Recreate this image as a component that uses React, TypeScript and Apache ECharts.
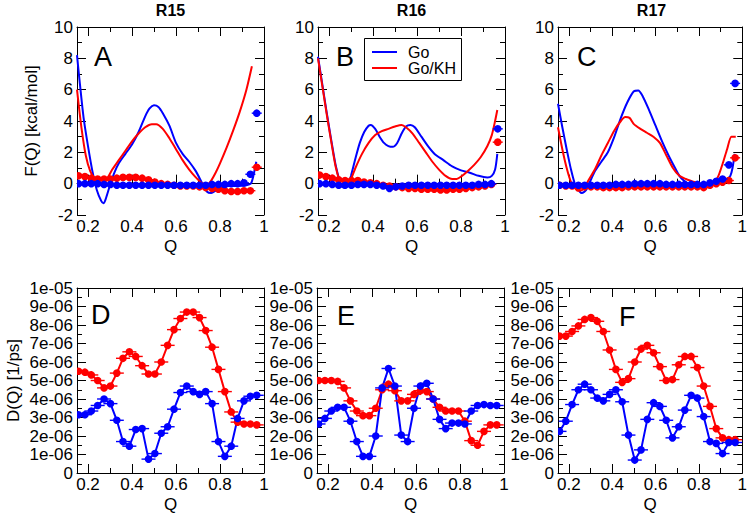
import React, { useEffect, useRef } from "react";
import * as echarts from "echarts";

// ---------- data ----------
const panelTitles = ["R15", "R16", "R17"];
const topLetters = ["A", "B", "C"];
const bottomLetters = ["D", "E", "F"];
const legendNames = ["Go", "Go/KH"];
const xMajor = [0.2, 0.4, 0.6, 0.8, 1];
const xMinor = [0.3, 0.5, 0.7, 0.9];

// Q bin centres of the dotted series
const qBins = [0.157, 0.186, 0.215, 0.244, 0.273, 0.302, 0.331, 0.359, 0.388, 0.417, 0.446, 0.475, 0.504, 0.533, 0.562, 0.591, 0.62, 0.649, 0.678, 0.707, 0.735, 0.764, 0.793, 0.822, 0.851, 0.88, 0.909, 0.938, 0.967];

// Panel A (R15) free-energy curves
const aGoQ = [0.15, 0.16, 0.18, 0.2, 0.22, 0.24, 0.26, 0.27, 0.28, 0.3, 0.32, 0.34, 0.37, 0.4, 0.43, 0.46, 0.48, 0.5, 0.52, 0.54, 0.57, 0.6, 0.63, 0.66, 0.69, 0.72, 0.74, 0.76, 0.78, 0.8, 0.84, 0.88, 0.92, 0.94, 0.95, 0.965];
const aGoF = [8.2, 6.8, 4.2, 2.4, 0.8, -0.4, -1.1, -1.25, -1.0, -0.1, 0.7, 1.3, 1.9, 2.5, 3.3, 4.3, 4.8, 5.0, 4.9, 4.5, 3.7, 2.6, 1.9, 1.4, 0.8, 0.0, -0.5, -0.6, -0.45, -0.25, -0.15, -0.15, -0.1, 0.0, 0.4, 1.4];
const aKhQ = [0.15, 0.17, 0.19, 0.21, 0.23, 0.25, 0.27, 0.29, 0.31, 0.34, 0.37, 0.4, 0.43, 0.46, 0.49, 0.51, 0.54, 0.57, 0.6, 0.63, 0.66, 0.69, 0.72, 0.74, 0.76, 0.78, 0.8, 0.83, 0.86, 0.89, 0.92, 0.945];
const aKhF = [6.0, 3.6, 1.8, 0.8, 0.35, 0.2, 0.2, 0.4, 0.9, 1.5, 2.1, 2.7, 3.2, 3.6, 3.8, 3.8, 3.5, 2.9, 2.2, 1.5, 0.9, 0.4, 0.0, -0.05, 0.2, 0.7, 1.3, 2.3, 3.4, 4.6, 6.0, 7.5];
const aGoDots = [0.0, 0.0, 0.0, 0.0, -0.05, -0.05, -0.1, -0.1, -0.1, -0.1, -0.1, -0.1, -0.1, -0.1, -0.1, -0.1, -0.1, -0.1, -0.1, -0.1, -0.1, -0.05, -0.05, -0.05, 0.0, 0.0, 0.05, 0.6, 4.5];
const aKhDots = [0.5, 0.45, 0.35, 0.3, 0.3, 0.3, 0.35, 0.4, 0.4, 0.4, 0.35, 0.25, 0.1, 0.0, -0.05, -0.1, -0.15, -0.15, -0.15, -0.2, -0.25, -0.3, -0.35, -0.45, -0.5, -0.5, -0.45, -0.45, 1.05];

// Panel B (R16)
const bGoQ = [0.15, 0.17, 0.19, 0.21, 0.23, 0.25, 0.26, 0.27, 0.28, 0.29, 0.3, 0.32, 0.34, 0.36, 0.38, 0.39, 0.41, 0.43, 0.45, 0.47, 0.49, 0.51, 0.53, 0.55, 0.57, 0.59, 0.62, 0.65, 0.68, 0.72, 0.76, 0.8, 0.84, 0.88, 0.92, 0.94, 0.955, 0.965];
const bGoF = [8.1, 6.3, 4.5, 2.8, 1.2, 0.1, -0.2, -0.25, -0.2, 0.0, 0.5, 1.6, 2.6, 3.3, 3.7, 3.75, 3.5, 3.0, 2.6, 2.4, 2.35, 2.6, 3.2, 3.65, 3.75, 3.6, 3.0, 2.4, 1.9, 1.5, 1.1, 0.85, 0.7, 0.5, 0.4, 0.5, 0.9, 1.9];
const bKhQ = [0.15, 0.17, 0.19, 0.21, 0.23, 0.25, 0.26, 0.27, 0.28, 0.3, 0.32, 0.35, 0.38, 0.41, 0.44, 0.47, 0.5, 0.53, 0.55, 0.58, 0.61, 0.64, 0.67, 0.7, 0.73, 0.76, 0.78, 0.8, 0.83, 0.86, 0.89, 0.92, 0.94, 0.955, 0.965];
const bKhF = [8.0, 6.2, 4.4, 2.7, 1.1, 0.1, -0.15, -0.2, -0.1, 0.3, 1.0, 1.9, 2.6, 3.1, 3.35, 3.5, 3.65, 3.75, 3.6, 3.2, 2.6, 2.0, 1.4, 0.9, 0.5, 0.3, 0.3, 0.45, 0.8, 1.2, 1.7, 2.4, 3.1, 4.0, 4.7];
const bGoDots = [0.0, 0.0, -0.05, -0.1, -0.1, -0.1, -0.05, -0.05, -0.05, -0.1, -0.15, -0.3, -0.2, -0.15, -0.1, -0.1, -0.1, -0.1, -0.1, -0.1, -0.1, -0.1, -0.1, -0.1, -0.1, -0.05, -0.05, 0.0, 3.5];
const bKhDots = [0.55, 0.45, 0.35, 0.25, 0.2, 0.2, 0.2, 0.1, 0.05, 0.0, -0.1, -0.15, -0.2, -0.25, -0.3, -0.3, -0.35, -0.35, -0.35, -0.4, -0.4, -0.35, -0.35, -0.3, -0.25, -0.2, -0.15, -0.05, 2.65];

// Panel C (R17)
const cGoQ = [0.15, 0.17, 0.19, 0.21, 0.23, 0.25, 0.26, 0.28, 0.3, 0.32, 0.35, 0.38, 0.41, 0.44, 0.47, 0.5, 0.52, 0.54, 0.57, 0.6, 0.63, 0.66, 0.69, 0.71, 0.73, 0.75, 0.78, 0.82, 0.86, 0.89, 0.91, 0.93, 0.945, 0.955, 0.965];
const cGoF = [5.1, 3.6, 2.2, 0.9, -0.1, -0.5, -0.6, -0.4, 0.2, 0.8, 1.4, 2.0, 3.0, 4.2, 5.2, 5.9, 5.95, 5.6, 4.7, 3.7, 2.7, 1.8, 1.0, 0.5, 0.2, 0.0, -0.1, -0.1, -0.1, 0.1, 0.2, 0.3, 0.5, 1.0, 1.9];
const cKhQ = [0.15, 0.17, 0.19, 0.21, 0.23, 0.24, 0.25, 0.27, 0.29, 0.32, 0.35, 0.38, 0.41, 0.44, 0.46, 0.48, 0.5, 0.53, 0.56, 0.59, 0.62, 0.65, 0.68, 0.71, 0.74, 0.77, 0.8, 0.83, 0.85, 0.87, 0.89, 0.91, 0.93, 0.95, 0.97];
const cKhF = [3.6, 2.2, 1.0, 0.1, -0.3, -0.45, -0.45, -0.3, 0.2, 0.9, 1.8, 2.6, 3.4, 4.0, 4.25, 4.2, 3.8, 3.5, 3.25, 3.0, 2.6, 1.8, 1.0, 0.5, 0.3, 0.15, 0.0, -0.1, -0.2, 0.0, 0.5, 1.3, 2.2, 3.0, 3.0];
const cGoDots = [-0.1, -0.1, -0.1, -0.1, -0.1, -0.1, -0.1, -0.1, -0.1, -0.05, -0.05, -0.05, 0.0, 0.0, 0.0, 0.0, 0.0, -0.05, -0.05, -0.05, -0.05, -0.05, -0.05, -0.05, 0.05, 0.15, 0.3, 1.2, 6.4];
const cKhDots = [-0.1, -0.15, -0.15, -0.2, -0.2, -0.2, -0.2, -0.25, -0.25, -0.25, -0.25, -0.2, -0.2, -0.2, -0.2, -0.2, -0.2, -0.2, -0.2, -0.2, -0.2, -0.2, -0.2, -0.25, -0.1, 0.0, 0.1, 0.2, 1.65];

// Diffusion coefficients, in units of 1e-06 1/ps
const dGo = [3.15, 3.15, 3.35, 3.65, 4.0, 3.75, 2.85, 1.7, 1.45, 2.35, 2.4, 0.75, 1.05, 2.15, 2.5, 3.45, 4.35, 4.7, 4.4, 4.25, 4.4, 3.75, 1.7, 0.9, 1.45, 2.95, 3.9, 4.15, 4.2];
const dKh = [5.5, 5.45, 5.3, 5.0, 4.6, 4.7, 5.4, 6.2, 6.55, 6.3, 5.8, 5.35, 5.35, 6.0, 6.9, 7.75, 8.35, 8.7, 8.7, 8.4, 7.7, 6.8, 5.6, 4.4, 3.3, 2.75, 2.65, 2.65, 2.6];
const eGo = [2.65, 2.95, 3.35, 3.55, 3.55, 2.8, 1.7, 0.9, 0.9, 2.0, 4.6, 5.65, 4.7, 2.05, 1.7, 3.5, 4.7, 4.85, 4.0, 2.9, 2.4, 2.7, 2.7, 2.65, 3.35, 3.65, 3.7, 3.65, 3.65];
const eKh = [5.0, 5.0, 5.0, 4.95, 4.6, 3.9, 3.35, 3.1, 3.1, 3.5, 4.5, 4.8, 4.45, 3.9, 3.9, 4.25, 4.45, 4.4, 4.0, 3.55, 3.35, 3.35, 3.35, 2.8, 1.75, 1.5, 2.25, 2.6, 2.6];
const fGo = [2.25, 2.8, 3.7, 4.5, 4.8, 4.5, 4.05, 3.9, 4.25, 4.5, 3.85, 2.05, 0.7, 1.25, 2.9, 3.8, 3.6, 2.85, 1.9, 2.5, 3.4, 4.2, 4.05, 3.05, 1.7, 1.6, 1.05, 1.65, 1.65];
const fKh = [7.4, 7.4, 7.65, 7.95, 8.3, 8.4, 8.2, 7.65, 6.65, 5.6, 4.9, 5.1, 6.0, 6.7, 6.9, 6.5, 5.75, 5.0, 5.05, 5.85, 6.3, 6.3, 5.7, 4.7, 3.6, 2.4, 1.9, 1.8, 1.8];

// ---------- styling ----------
const BLUE = "#0000ff";
const RED = "#ff0000";
const FONT = "'Liberation Sans', Arial, Helvetica, sans-serif";

const grids = [
  { left: 77, top: 27, width: 187, height: 188 },
  { left: 318, top: 27, width: 187, height: 188 },
  { left: 558, top: 27, width: 187, height: 188 },
  { left: 77, top: 288, width: 187, height: 185 },
  { left: 317, top: 288, width: 187, height: 185 },
  { left: 558, top: 288, width: 187, height: 185 },
];

const zip = (xs: number[], ys: number[]) => xs.map((x, i) => [x, ys[i]]);

function makeXAxes(g: number) {
  const base = { gridIndex: g, type: "value", min: 0.15, max: 1, splitLine: { show: false } };
  const tickStyle = { color: "#000", width: 1 };
  return [
    {
      ...base,
      position: "bottom",
      axisLine: { show: true, lineStyle: { color: "#000", width: 1 } },
      axisTick: { show: true, inside: true, length: 9, customValues: xMajor, lineStyle: tickStyle },
      axisLabel: {
        show: true,
        customValues: xMajor,
        color: "#000",
        fontSize: 17,
        fontFamily: FONT,
        margin: 3,
        formatter: (v: number) => String(Math.round(v * 10) / 10),
      },
      name: "Q",
      nameLocation: "middle",
      nameGap: 23,
      nameTextStyle: { color: "#000", fontSize: 17, fontFamily: FONT },
    },
    {
      ...base,
      position: "bottom",
      axisLine: { show: false },
      axisTick: { show: true, inside: true, length: 5, customValues: xMinor, lineStyle: tickStyle },
      axisLabel: { show: false },
    },
    {
      ...base,
      position: "top",
      axisLine: { show: true, lineStyle: { color: "#000", width: 1 } },
      axisTick: { show: true, inside: true, length: 9, customValues: xMajor, lineStyle: tickStyle },
      axisLabel: { show: false },
    },
    {
      ...base,
      position: "top",
      axisLine: { show: false },
      axisTick: { show: true, inside: true, length: 5, customValues: xMinor, lineStyle: tickStyle },
      axisLabel: { show: false },
    },
  ];
}

function makeYAxes(g: number, energy: boolean, name: string) {
  const base = {
    gridIndex: g,
    type: "value",
    min: energy ? -2 : 0,
    max: 10,
    interval: energy ? 2 : 1,
    splitLine: { show: false },
    axisLine: { show: true, lineStyle: { color: "#000", width: 1 } },
    axisTick: { show: true, inside: true, length: 9, lineStyle: { color: "#000", width: 1 } },
    minorTick: { show: true, splitNumber: 2, length: 5, lineStyle: { color: "#000", width: 1 } },
    minorSplitLine: { show: false },
  };
  return [
    {
      ...base,
      position: "left",
      axisLabel: {
        show: true,
        color: "#000",
        fontSize: 17,
        fontFamily: FONT,
        margin: 4,
        formatter: (v: number) => {
          if (energy) return String(v);
          if (v === 0) return "0";
          if (v === 10) return "1e-05";
          return `${v}e-06`;
        },
      },
      name,
      nameLocation: "middle",
      nameGap: energy ? 37 : 55,
      nameTextStyle: { color: "#000", fontSize: 17, fontFamily: FONT },
    },
    { ...base, position: "right", axisLabel: { show: false } },
  ];
}

function dotSeries(g: number, values: number[], color: string, half: number, name: string) {
  return {
    type: "custom",
    name,
    xAxisIndex: g * 4,
    yAxisIndex: g * 2,
    clip: true,
    z: 4,
    data: zip(qBins, values),
    encode: { x: 0, y: 1 },
    renderItem: (_p: any, api: any) => {
      const pt = api.coord([api.value(0), api.value(1)]);
      return {
        type: "group",
        children: [
          {
            type: "line",
            shape: { x1: pt[0] - half, y1: pt[1], x2: pt[0] + half, y2: pt[1] },
            style: { stroke: color, lineWidth: 1.4 },
          },
          { type: "circle", shape: { cx: pt[0], cy: pt[1], r: 3.8 }, style: { fill: color } },
        ],
      };
    },
  };
}

function curve(g: number, xs: number[], ys: number[], color: string, name: string) {
  return {
    type: "line",
    name,
    xAxisIndex: g * 4,
    yAxisIndex: g * 2,
    data: zip(xs, ys),
    showSymbol: false,
    symbol: "none",
    smooth: 0.25,
    clip: true,
    z: 3,
    lineStyle: { color, width: 2 },
    itemStyle: { color },
  };
}

function dLine(g: number, values: number[], color: string, name: string) {
  return {
    type: "line",
    name,
    xAxisIndex: g * 4,
    yAxisIndex: g * 2,
    data: zip(qBins, values),
    showSymbol: false,
    symbol: "none",
    clip: true,
    z: 3,
    lineStyle: { color, width: 2 },
    itemStyle: { color },
  };
}

function buildOption() {
  const xAxis: any[] = [];
  const yAxis: any[] = [];
  grids.forEach((_, g) => {
    xAxis.push(...makeXAxes(g));
    const energy = g < 3;
    const name = g === 0 ? "F(Q) [kcal/mol]" : g === 3 ? "D(Q) [1/ps]" : "";
    yAxis.push(...makeYAxes(g, energy, name));
  });

  const series: any[] = [
    curve(0, aGoQ, aGoF, BLUE, legendNames[0]),
    curve(0, aKhQ, aKhF, RED, legendNames[1]),
    dotSeries(0, aKhDots, RED, 5, "aKhDots"),
    dotSeries(0, aGoDots, BLUE, 5, "aGoDots"),
    curve(1, bGoQ, bGoF, BLUE, legendNames[0]),
    curve(1, bKhQ, bKhF, RED, legendNames[1]),
    dotSeries(1, bKhDots, RED, 5, "bKhDots"),
    dotSeries(1, bGoDots, BLUE, 5, "bGoDots"),
    curve(2, cGoQ, cGoF, BLUE, legendNames[0]),
    curve(2, cKhQ, cKhF, RED, legendNames[1]),
    dotSeries(2, cKhDots, RED, 5, "cKhDots"),
    dotSeries(2, cGoDots, BLUE, 5, "cGoDots"),
    dLine(3, dKh, RED, "dKh"),
    dLine(3, dGo, BLUE, "dGo"),
    dotSeries(3, dKh, RED, 7, "dKhDots"),
    dotSeries(3, dGo, BLUE, 7, "dGoDots"),
    dLine(4, eKh, RED, "eKh"),
    dLine(4, eGo, BLUE, "eGo"),
    dotSeries(4, eKh, RED, 7, "eKhDots"),
    dotSeries(4, eGo, BLUE, 7, "eGoDots"),
    dLine(5, fKh, RED, "fKh"),
    dLine(5, fGo, BLUE, "fGo"),
    dotSeries(5, fKh, RED, 7, "fKhDots"),
    dotSeries(5, fGo, BLUE, 7, "fGoDots"),
  ];

  const graphic: any[] = [];
  // panel titles
  [0, 1, 2].forEach((g) => {
    const gr = grids[g];
    graphic.push({
      type: "text",
      x: gr.left + gr.width / 2,
      y: 10,
      z: 100,
      style: { text: panelTitles[g], font: `bold 16px ${FONT}`, fill: "#000", align: "center", verticalAlign: "middle" },
    });
  });
  // panel letters
  const letterPos = [
    [94, 57], [336, 57], [577, 57],
    [91, 315], [337, 316], [619, 317],
  ];
  [...topLetters, ...bottomLetters].forEach((L, i) => {
    graphic.push({
      type: "text",
      x: letterPos[i][0],
      y: letterPos[i][1],
      z: 100,
      style: { text: L, font: `27px ${FONT}`, fill: "#000", align: "left", verticalAlign: "middle" },
    });
  });
  // legend box in panel B
  graphic.push({
    type: "rect",
    z: 100,
    shape: { x: 364.5, y: 38.5, width: 97, height: 42 },
    style: { fill: "#fff", stroke: "#000", lineWidth: 1 },
  });
  [BLUE, RED].forEach((c, i) => {
    const y = 52 + i * 16;
    graphic.push({
      type: "line",
      z: 101,
      shape: { x1: 372, y1: y, x2: 397, y2: y },
      style: { stroke: c, lineWidth: 2 },
    });
    graphic.push({
      type: "text",
      z: 101,
      x: 408,
      y,
      style: { text: legendNames[i], font: `16px ${FONT}`, fill: "#000", align: "left", verticalAlign: "middle" },
    });
  });

  return {
    animation: false,
    backgroundColor: "#fff",
    grid: grids.map((g) => ({ ...g, containLabel: false })),
    xAxis,
    yAxis,
    series,
    graphic,
  };
}

export default function App() {
  const ref = useRef<HTMLDivElement>(null);
  useEffect(() => {
    if (!ref.current) return;
    const chart = echarts.init(ref.current, undefined, { renderer: "svg" });
    chart.setOption(buildOption() as any);
    return () => chart.dispose();
  }, []);
  return (
    <div
      ref={ref}
      style={{ position: "fixed", left: 0, top: 0, width: 750, height: 516, background: "#fff" }}
    />
  );
}
